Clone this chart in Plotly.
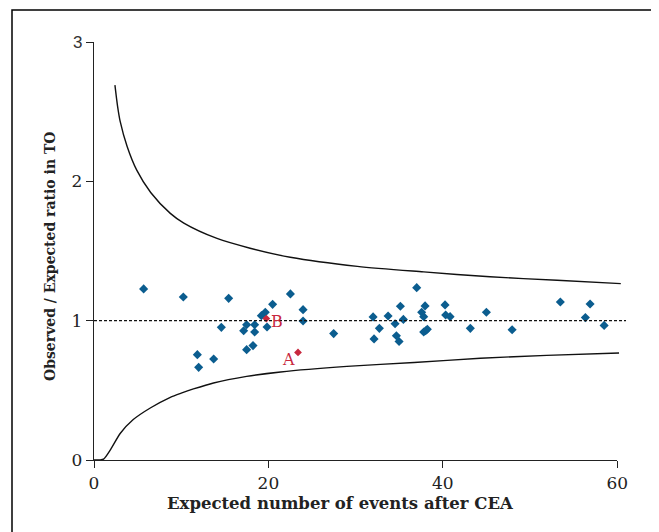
import plotly.graph_objects as go

# ---- data ----
blue_x = [5.69, 10.24, 15.44, 20.48, 22.52, 19.64, 19.19, 14.6, 17.5, 18.42, 17.16, 18.42, 19.84,
          17.5, 18.23, 11.85, 13.72, 12.0, 23.97, 23.97, 27.48, 32.0, 32.11, 32.72, 33.72, 34.52,
          34.67, 34.98, 35.13, 35.47, 37.0, 37.57, 37.8, 37.96, 37.8, 38.03, 38.22, 40.25, 40.32,
          40.83, 43.15, 44.99, 47.94, 53.47, 56.88, 56.34, 58.49]
blue_y = [1.228, 1.170, 1.160, 1.117, 1.192, 1.060, 1.036, 0.952, 0.971, 0.971, 0.928, 0.919, 0.955,
          0.792, 0.821, 0.756, 0.725, 0.665, 1.079, 0.998, 0.907, 1.027, 0.869, 0.945, 1.034, 0.978,
          0.892, 0.851, 1.103, 1.009, 1.237, 1.060, 1.029, 1.106, 0.919, 0.928, 0.938, 1.113, 1.041,
          1.029, 0.945, 1.060, 0.935, 1.134, 1.120, 1.022, 0.966]

red_labels = ["B", "A"]
red_x = [19.76, 23.39]
red_y = [1.015, 0.772]

upper_x = [2.4, 2.7, 3.0, 3.8, 4.9, 6.5, 8.75, 10.3, 14.1, 17.9, 22.5, 30.2, 37.8, 45.4, 53.1, 60.4]
upper_y = [2.69, 2.54, 2.43, 2.25, 2.08, 1.92, 1.77, 1.70, 1.59, 1.52, 1.455, 1.39, 1.35, 1.315, 1.29, 1.266]

lower_x = [0, 1.1, 1.9, 3.0, 4.5, 6.5, 8.75, 10.0, 11.4, 13.7, 17.5, 21.4, 29.0, 36.7, 44.3, 51.9, 60.2]
lower_y = [0, 0.007, 0.075, 0.19, 0.29, 0.375, 0.45, 0.48, 0.51, 0.553, 0.60, 0.632, 0.672, 0.70, 0.73, 0.751, 0.768]

ref_x = [0, 61]
ref_y = [1, 1]

x_ticks = [0, 20, 40, 60]
y_ticks = [0, 1, 2, 3]
y_ticktext = ["0", "1", "2", '<span style="font-family:Liberation Sans;fill:#333">3</span>']

x_title = "Expected number of events after CEA"
y_title = "Observed / Expected ratio in TO"

BLUE = "#0b5d8f"
RED = "#c8283e"
SERIF = "DejaVu Serif"

W, H = 659, 532
OFF = 8  # page body margin
ML, MR, MT, MB = 86, 30, 34, 80
PW = W - ML - MR
PH = H - MT - MB
X_MAX = 60
x_frac = 523.3 / PW


def px2paper_x(px):
    return (px - OFF - ML) / PW


def px2paper_y(py):
    return (H - MB - (py - OFF)) / PH


fig = go.Figure()

# curves and reference line on an extended (invisible) axis so they can run slightly past x=60
fig.add_trace(go.Scatter(x=upper_x, y=upper_y, mode="lines", xaxis="x2", yaxis="y2",
                         line=dict(color="#111", width=1.4, shape="spline", smoothing=0.8),
                         hoverinfo="skip", showlegend=False))
fig.add_trace(go.Scatter(x=lower_x, y=lower_y, mode="lines", xaxis="x2", yaxis="y2",
                         line=dict(color="#111", width=1.4, shape="spline", smoothing=0.6),
                         hoverinfo="skip", showlegend=False))
fig.add_trace(go.Scatter(x=ref_x, y=ref_y, mode="lines", xaxis="x2", yaxis="y2",
                         line=dict(color="#111", width=1.3, dash="3px,2px"),
                         hoverinfo="skip", showlegend=False))

fig.add_trace(go.Scatter(x=blue_x, y=blue_y, mode="markers",
                         marker=dict(symbol="diamond", size=7, color=BLUE),
                         showlegend=False))
fig.add_trace(go.Scatter(x=red_x, y=red_y, mode="markers",
                         marker=dict(symbol="diamond", size=6, color=RED),
                         showlegend=False))

# point labels
fig.add_annotation(x=red_x[0], y=red_y[0], text=red_labels[0], showarrow=False,
                   xanchor="left", yanchor="middle", xshift=3, yshift=-3,
                   font=dict(family=SERIF, size=16, color=RED))
fig.add_annotation(x=red_x[1], y=red_y[1], text=red_labels[1], showarrow=False,
                   xanchor="right", yanchor="top", xshift=-1, yshift=4,
                   font=dict(family=SERIF, size=16, color=RED))

# axis titles
fig.add_annotation(xref="paper", yref="paper", x=px2paper_x(340), y=px2paper_y(503),
                   text=f"<b>{x_title}</b>", showarrow=False, xanchor="center", yanchor="middle",
                   font=dict(family=SERIF, size=16.5, color="#222"))
fig.add_annotation(xref="paper", yref="paper", x=px2paper_x(50), y=px2paper_y(256),
                   text=f"<b>{y_title}</b>", showarrow=False, xanchor="center", yanchor="middle",
                   textangle=-90, font=dict(family=SERIF, size=14, color="#222"))

# outer frame (left, top, right) - given in page pixels
fx0, fx1 = px2paper_x(12), px2paper_x(652)
fy0, fy1 = px2paper_y(560), px2paper_y(10)
fig.add_shape(type="path", xref="paper", yref="paper",
              path=f"M {fx0},{fy0} L {fx0},{fy1} L {fx1},{fy1} L {fx1},{fy0}",
              line=dict(color="#000", width=1.5))

fig.update_layout(
    width=W, height=H,
    margin=dict(l=ML, r=MR, t=MT, b=MB),
    paper_bgcolor="white", plot_bgcolor="rgba(0,0,0,0)",
    font=dict(family=SERIF, size=17, color="#222"),
    xaxis=dict(domain=[0, x_frac], range=[0, X_MAX], tickvals=x_ticks,
               showline=True, linecolor="#222", linewidth=1.3,
               ticks="outside", ticklen=7, tickwidth=1.3, tickcolor="#222",
               showgrid=False, zeroline=False,
               tickfont=dict(family=SERIF, size=17, color="#222")),
    yaxis=dict(range=[0, 3], tickvals=y_ticks, ticktext=y_ticktext,
               showline=True, linecolor="#222", linewidth=1.3,
               ticks="outside", ticklen=7, tickwidth=1.3, tickcolor="#222",
               showgrid=False, zeroline=False,
               tickfont=dict(family=SERIF, size=17, color="#222")),
    xaxis2=dict(domain=[0, 1], range=[0, X_MAX / x_frac], visible=False, anchor="y2"),
    yaxis2=dict(domain=[0, 1], range=[0, 3], visible=False, anchor="x2"),
)

fig.write_html("out.html")
